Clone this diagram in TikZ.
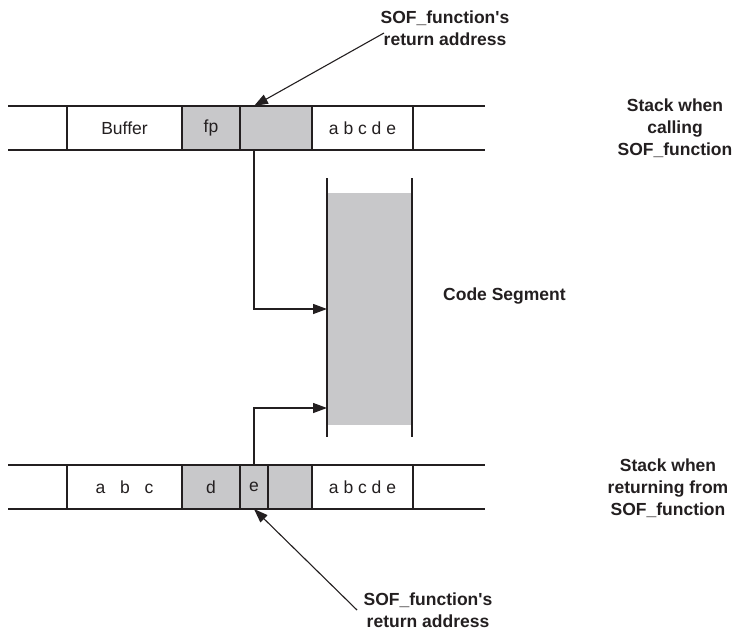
\documentclass[tikz,border=0pt]{standalone}
\usepackage{fontspec}
\setmainfont{Liberation Sans}
\usetikzlibrary{arrows.meta,calc}
\definecolor{ink}{HTML}{231F20}
\definecolor{cellgray}{HTML}{C8C8CA}
\begin{document}
\begin{tikzpicture}[x=1pt,y=-1pt,
  every node/.style={text=ink,font=\fontsize{17.5}{21}\selectfont},
  line/.style={draw=ink,line width=1.3pt},
  cell/.style={line,fill=white,minimum height=44pt,inner sep=0pt,outer sep=0pt},
  graycell/.style={cell,fill=cellgray},
  lbl/.style={font=\fontsize{17.5}{22}\selectfont\bfseries,align=center,inner sep=0pt},
  arr/.style={line,-{Triangle[length=14pt,width=10pt]}},
  ptr/.style={draw=ink,line width=1.1pt,-{Triangle[length=14pt,width=10pt]}}
]
\useasboundingbox (0,0) rectangle (735,631);

% stack when calling
\draw[line] (8,106) -- (485,106);
\draw[line] (8,150) -- (485,150);
\node[cell,minimum width=115pt] (buf) at (124.5,128) {Buffer};
\node[graycell,minimum width=58pt] (fp) at (211,128) {fp};
\node[graycell,minimum width=72pt] (ret) at (276,128) {};
\node[cell,minimum width=101pt] (str) at (362.5,128) {a b c d e};

% stack when returning
\draw[line] (8,465) -- (485,465);
\draw[line] (8,509) -- (485,509);
\node[cell,minimum width=115pt] (abc) at (124.5,487) {a\hspace{0.85em}b\hspace{0.85em}c};
\node[graycell,minimum width=58pt] (d) at (211,487) {d};
\node[graycell,minimum width=28pt] (e) at (254,487) {e};
\node[graycell,minimum width=44pt] (ret2) at (290,487) {};
\node[cell,minimum width=101pt] (str2) at (362.5,487) {a b c d e};

% code segment
\node[fill=cellgray,minimum width=85pt,minimum height=232pt,inner sep=0pt,outer sep=0pt] (code) at (369.5,309) {};
\draw[line] (327,178) -- (327,437);
\draw[line] (412,178) -- (412,437);
\node[lbl,anchor=west] (codelbl) at (443,296) {Code Segment};

% side labels
\node[lbl] (calling) at (675,128) {Stack when\\calling\\SOF\_function};
\node[lbl] (returning) at (668,488) {Stack when\\returning from\\SOF\_function};

% jumps into the code segment
\coordinate (in1) at (code.west |- 0,309);
\coordinate (in2) at (code.west |- 0,408);
\draw[arr] (e.north |- ret.south) |- (in1);
\draw[arr] (e.north) |- (in2);

% return address pointers
\node[lbl] (top) at (445,28) {SOF\_function\textquotesingle s\\return address};
\coordinate (p1) at (384,33);
\draw[ptr] (p1) -- (e.north |- ret.north);
\node[lbl] (bot) at (428,610) {SOF\_function\textquotesingle s\\return address};
\coordinate (p2) at (357,610);
\draw[ptr] (p2) -- (e.south);
\end{tikzpicture}
\end{document}
